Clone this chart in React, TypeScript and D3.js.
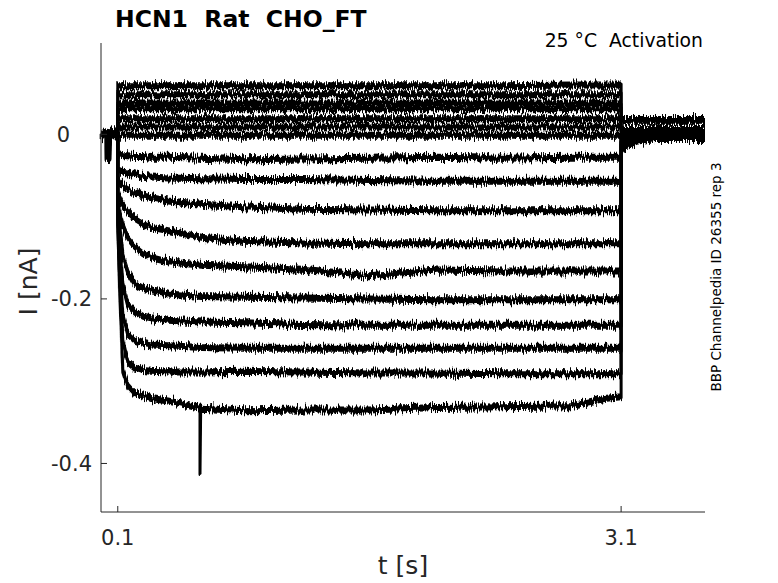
import React, { useEffect, useRef } from "react";
import * as d3 from "d3";

// holding period before the step (all sweeps overlap here)
const preTimes = [0, 0.02, 0.04, 0.042, 0.045, 0.07, 0.1];
const preValues = [0.001, -0.001, 0.0, -0.027, -0.002, 0.001, 0.0];

// voltage step, 0.1 s .. 3.1 s
const stepTimes = [0.1, 0.11, 0.13, 0.16, 0.2, 0.25, 0.3, 0.4, 0.6, 0.85, 1.2, 1.6, 2.0, 2.4, 2.8, 3.0, 3.1];

const stepTraces = [
    [0.059, 0.059, 0.059, 0.059, 0.059, 0.059, 0.059, 0.059, 0.059, 0.059, 0.059, 0.059, 0.059, 0.059, 0.060, 0.060, 0.060],
    [0.048, 0.048, 0.048, 0.048, 0.048, 0.048, 0.048, 0.048, 0.048, 0.048, 0.048, 0.048, 0.048, 0.048, 0.048, 0.048, 0.048],
    [0.038, 0.038, 0.038, 0.038, 0.038, 0.038, 0.038, 0.038, 0.038, 0.038, 0.038, 0.038, 0.038, 0.038, 0.038, 0.038, 0.038],
    [0.031, 0.031, 0.031, 0.031, 0.031, 0.031, 0.031, 0.031, 0.031, 0.031, 0.031, 0.031, 0.031, 0.031, 0.031, 0.031, 0.031],
    [0.019, 0.019, 0.019, 0.019, 0.019, 0.019, 0.019, 0.019, 0.019, 0.019, 0.019, 0.019, 0.019, 0.019, 0.019, 0.019, 0.019],
    [0.009, 0.009, 0.009, 0.009, 0.009, 0.009, 0.009, 0.009, 0.009, 0.009, 0.009, 0.009, 0.009, 0.009, 0.009, 0.009, 0.009],
    [-0.001, -0.001, -0.001, -0.001, -0.001, -0.001, -0.001, -0.001, -0.001, -0.001, -0.001, -0.001, -0.001, -0.001, -0.001, -0.001, -0.001],
    [-0.025, -0.025, -0.026, -0.026, -0.027, -0.027, -0.028, -0.028, -0.029, -0.031, -0.030, -0.029, -0.028, -0.029, -0.028, -0.028, -0.028],
    [-0.043, -0.044, -0.046, -0.047, -0.049, -0.051, -0.052, -0.053, -0.054, -0.055, -0.055, -0.056, -0.057, -0.057, -0.057, -0.057, -0.057],
    [-0.055, -0.058, -0.062, -0.066, -0.071, -0.075, -0.077, -0.081, -0.085, -0.088, -0.091, -0.092, -0.093, -0.093, -0.093, -0.093, -0.093],
    [-0.071, -0.077, -0.086, -0.094, -0.102, -0.108, -0.113, -0.117, -0.125, -0.130, -0.132, -0.133, -0.133, -0.133, -0.133, -0.133, -0.133],
    [-0.082, -0.094, -0.111, -0.126, -0.136, -0.144, -0.150, -0.155, -0.159, -0.161, -0.164, -0.172, -0.165, -0.166, -0.166, -0.166, -0.166],
    [-0.086, -0.110, -0.147, -0.167, -0.181, -0.187, -0.190, -0.194, -0.197, -0.198, -0.199, -0.200, -0.201, -0.201, -0.201, -0.201, -0.201],
    [-0.092, -0.128, -0.183, -0.207, -0.216, -0.221, -0.223, -0.226, -0.228, -0.229, -0.231, -0.232, -0.232, -0.232, -0.232, -0.232, -0.232],
    [-0.098, -0.147, -0.220, -0.243, -0.250, -0.254, -0.256, -0.257, -0.259, -0.260, -0.260, -0.260, -0.260, -0.260, -0.260, -0.260, -0.260],
    [-0.104, -0.165, -0.250, -0.277, -0.284, -0.287, -0.288, -0.289, -0.289, -0.288, -0.289, -0.290, -0.290, -0.291, -0.291, -0.291, -0.291],
    [-0.110, -0.183, -0.287, -0.306, -0.315, -0.318, -0.321, -0.324, -0.333, -0.336, -0.335, -0.335, -0.332, -0.331, -0.330, -0.321, -0.319],
];

// back to holding, tail currents
const postTimes = [3.1, 3.12, 3.15, 3.2, 3.3, 3.6];
const postTraces = [
    [0.018, 0.018, 0.018, 0.018, 0.018, 0.018],
    [0.017, 0.017, 0.017, 0.017, 0.017, 0.017],
    [0.016, 0.016, 0.016, 0.016, 0.016, 0.016],
    [0.006, 0.006, 0.006, 0.006, 0.006, 0.006],
    [0.004, 0.004, 0.004, 0.004, 0.004, 0.004],
    [0.002, 0.002, 0.002, 0.002, 0.002, 0.002],
    [0.000, 0.000, 0.000, 0.000, 0.000, 0.000],
    [-0.002, -0.002, -0.002, -0.002, -0.002, -0.002],
    [-0.003, -0.003, -0.003, -0.003, -0.003, -0.003],
    [-0.006, -0.004, -0.003, -0.002, -0.002, -0.002],
    [-0.010, -0.007, -0.005, -0.003, -0.002, -0.002],
    [-0.013, -0.009, -0.006, -0.004, -0.003, -0.003],
    [-0.015, -0.011, -0.008, -0.005, -0.003, -0.003],
    [-0.017, -0.013, -0.009, -0.006, -0.004, -0.004],
    [-0.019, -0.014, -0.010, -0.006, -0.004, -0.004],
    [-0.021, -0.016, -0.011, -0.007, -0.005, -0.004],
    [-0.022, -0.017, -0.012, -0.008, -0.005, -0.005],
];

// artefact on the deepest sweep
const spikes = [{ trace: 16, t: 0.59, base: -0.333, v: -0.411 }];

const xTicks = [0.1, 3.1];
const yTicks = [0, -0.2, -0.4];

const FONT = "DejaVu Sans";
const AXIS = "#262626";

export default function App() {
    const svgRef = useRef<SVGSVGElement>(null);

    useEffect(() => {
        document.body.style.margin = "0";
        drawChart();
    }, []);

    const drawChart = () => {
        const width = 778;
        const height = 583;
        const left = 101, right = 705, top = 43, bottom = 512;

        const svg = d3.select(svgRef.current)
            .attr("width", width)
            .attr("height", height)
            .style("display", "block")
            .style("background", "#fff");

        svg.selectAll("*").remove();

        const x = d3.scaleLinear().domain([0, 3.6]).range([left, right]);
        const y = d3.scaleLinear().domain([-0.459, 0.111]).range([bottom, top]);

        // noise texture for the recorded sweeps: jitter vertically, then thicken vertically
        const defs = svg.append("defs");
        const filter = defs.append("filter")
            .attr("id", "noisy")
            .attr("filterUnits", "userSpaceOnUse")
            .attr("x", 0).attr("y", 0)
            .attr("width", width).attr("height", height)
            .attr("color-interpolation-filters", "sRGB");
        filter.append("feTurbulence")
            .attr("type", "fractalNoise")
            .attr("baseFrequency", "1.1 0.06")
            .attr("numOctaves", 3)
            .attr("seed", 7)
            .attr("result", "turb");
        filter.append("feColorMatrix")
            .attr("in", "turb")
            .attr("type", "matrix")
            .attr("values", "0 0 0 0 0.5  0 1.4 0 0 -0.2  0 0 1 0 0  0 0 0 0 1")
            .attr("result", "map");
        filter.append("feDisplacementMap")
            .attr("in", "SourceGraphic")
            .attr("in2", "map")
            .attr("scale", 8)
            .attr("xChannelSelector", "R")
            .attr("yChannelSelector", "G")
            .attr("result", "jitter");
        filter.append("feMorphology")
            .attr("in", "jitter")
            .attr("operator", "dilate")
            .attr("radius", "0 1.5");

        const line = d3.line<[number, number]>()
            .x(d => x(d[0]))
            .y(d => y(d[1]));

        const sweeps = stepTraces.map((trace, i) => {
            const pts: [number, number][] = [[preTimes[preTimes.length - 1], preValues[preValues.length - 1]]];
            stepTimes.forEach((t, j) => pts.push([t, trace[j]]));
            spikes.filter(s => s.trace === i).forEach(s => {
                const k = pts.findIndex(p => p[0] > s.t && p[0] > 0.1);
                pts.splice(k, 0, [s.t, s.base], [s.t, s.v], [s.t + 0.004, s.base]);
            });
            postTimes.forEach((t, j) => pts.push([t, postTraces[i][j]]));
            return pts;
        });

        const g = svg.append("g").attr("filter", "url(#noisy)");

        // overlapping holding segment of all sweeps
        g.append("path")
            .datum(preTimes.map((t, j) => [t, preValues[j]] as [number, number]))
            .attr("d", d => line(d))
            .attr("fill", "none")
            .attr("stroke", "#000")
            .attr("stroke-width", 7)
            .attr("stroke-linejoin", "round");

        g.selectAll("path.sweep")
            .data(sweeps)
            .join("path")
            .attr("class", "sweep")
            .attr("d", d => line(d))
            .attr("fill", "none")
            .attr("stroke", "#000")
            .attr("stroke-width", 3)
            .attr("stroke-linejoin", "round");

        // axes (box off, ticks inside)
        const axes = svg.append("g").attr("stroke", AXIS).attr("stroke-width", 1).attr("fill", "none");
        axes.append("line").attr("x1", left).attr("x2", left).attr("y1", top).attr("y2", bottom);
        axes.append("line").attr("x1", left).attr("x2", right).attr("y1", bottom).attr("y2", bottom);
        axes.selectAll("line.xt")
            .data(xTicks)
            .join("line")
            .attr("class", "xt")
            .attr("x1", d => x(d)).attr("x2", d => x(d))
            .attr("y1", bottom).attr("y2", bottom - 6);
        axes.selectAll("line.yt")
            .data(yTicks)
            .join("line")
            .attr("class", "yt")
            .attr("x1", left).attr("x2", left + 6)
            .attr("y1", d => y(d)).attr("y2", d => y(d));

        const fmt = (d: number) => (d === 0 ? "0" : d.toFixed(1));

        svg.selectAll("text.xl")
            .data(xTicks)
            .join("text")
            .attr("class", "xl")
            .attr("x", d => x(d))
            .attr("y", bottom + 33)
            .attr("text-anchor", "middle")
            .style("font-family", FONT)
            .style("font-size", "21px")
            .attr("fill", AXIS)
            .text(fmt);

        svg.selectAll("text.yl")
            .data(yTicks)
            .join("text")
            .attr("class", "yl")
            .attr("x", left - 9)
            .attr("dx", d => (d === 0 ? -22 : 0))
            .attr("y", d => y(d))
            .attr("dy", "0.36em")
            .attr("text-anchor", "end")
            .style("font-family", FONT)
            .style("font-size", "21px")
            .attr("fill", AXIS)
            .text(fmt);

        svg.append("text")
            .attr("x", (left + right) / 2)
            .attr("y", 574)
            .attr("text-anchor", "middle")
            .style("font-family", FONT)
            .style("font-size", "25px")
            .attr("fill", AXIS)
            .text("t [s]");

        svg.append("text")
            .attr("transform", `translate(37,${(top + bottom) / 2 + 4}) rotate(-90)`)
            .attr("text-anchor", "middle")
            .style("font-family", FONT)
            .style("font-size", "25px")
            .attr("fill", AXIS)
            .text("I [nA]");

        svg.append("text")
            .attr("x", 115)
            .attr("y", 27)
            .style("font-family", FONT)
            .style("font-size", "23.5px")
            .style("font-weight", "bold")
            .attr("fill", "#000")
            .style("white-space", "pre")
            .text("HCN1  Rat  CHO_FT");

        svg.append("text")
            .attr("x", 703)
            .attr("y", 47)
            .attr("text-anchor", "end")
            .style("font-family", FONT)
            .style("font-size", "18.8px")
            .style("white-space", "pre")
            .attr("fill", "#000")
            .text("25 °C  Activation");

        svg.append("text")
            .attr("transform", "translate(721,277) rotate(-90)")
            .attr("text-anchor", "middle")
            .style("font-family", FONT)
            .style("font-size", "13.5px")
            .attr("fill", "#000")
            .text("BBP Channelpedia ID 26355 rep 3");
    };

    return <svg ref={svgRef}></svg>;
}
